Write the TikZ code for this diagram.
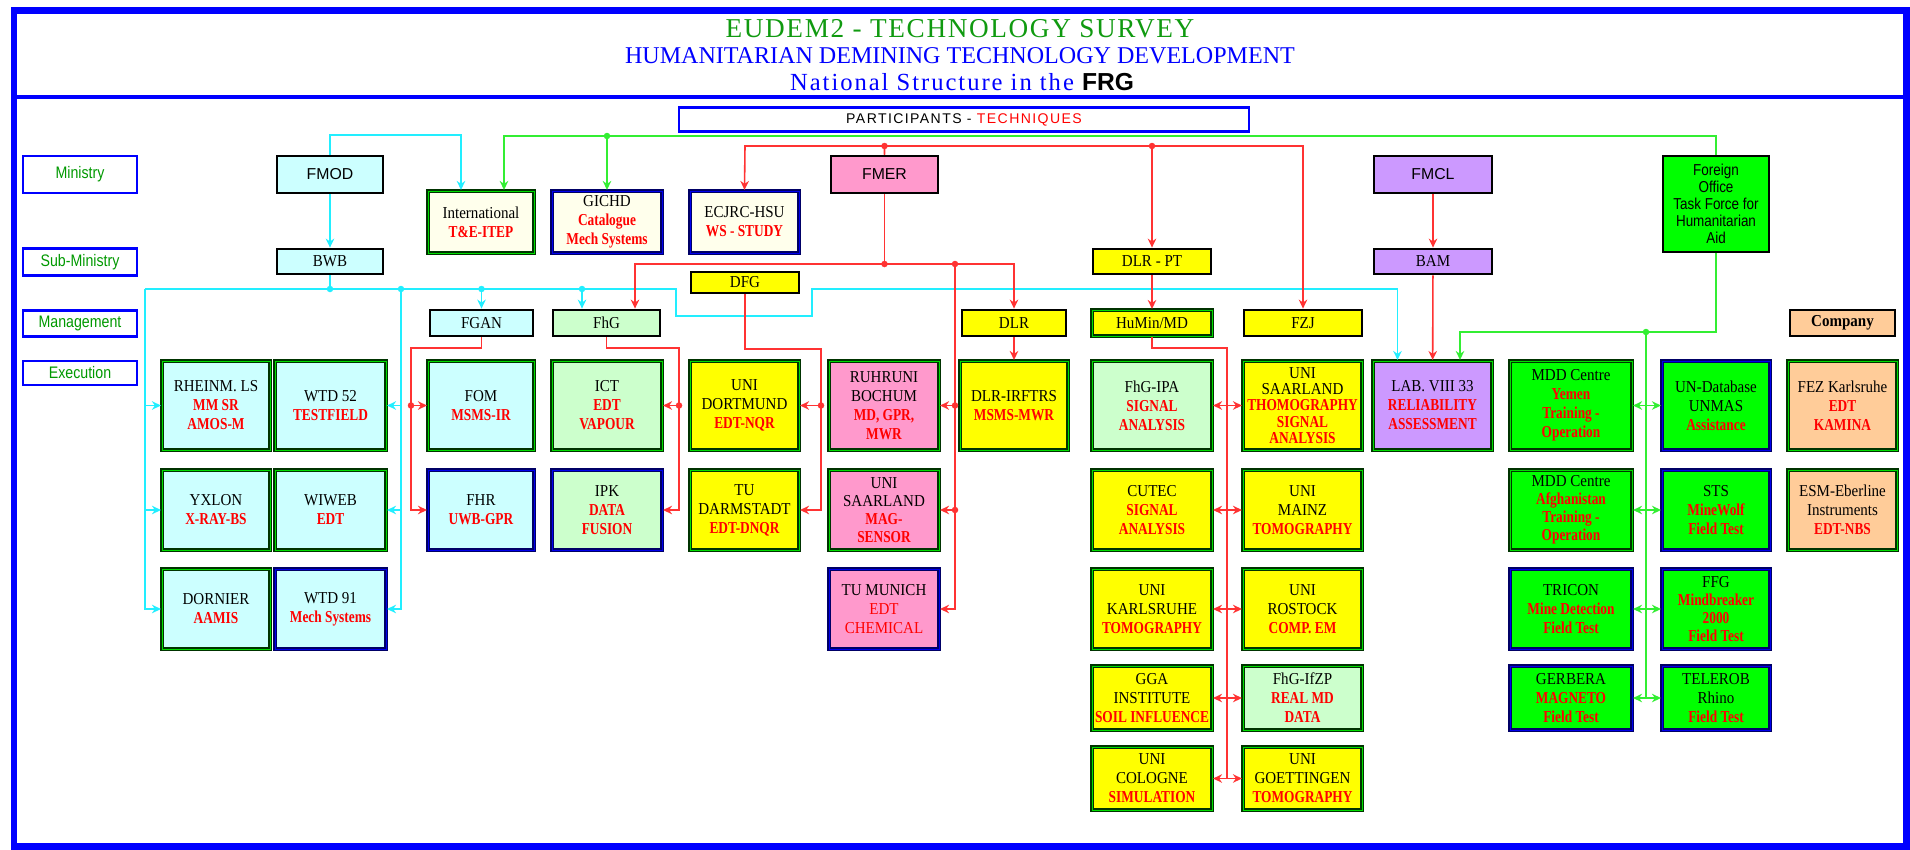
\documentclass[tikz,border=0pt]{standalone}
\usepackage{fontspec}
\setmainfont{Liberation Serif}
\setsansfont{Liberation Sans}
\newfontfamily\cellfont[FakeStretch=0.9]{Liberation Serif}
\newfontfamily\techfont[FakeStretch=0.8]{Liberation Serif}
\newfontfamily\lvlfont[FakeStretch=0.85]{Liberation Sans}
\usetikzlibrary{arrows.meta,calc}
\definecolor{cyanfill}{HTML}{CCFFFF}
\definecolor{ltgreen}{HTML}{CCFFCC}
\definecolor{yelfill}{HTML}{FFFF00}
\definecolor{pinkfill}{HTML}{FF99CC}
\definecolor{lavfill}{HTML}{CC99FF}
\definecolor{peachfill}{HTML}{FFCC99}
\definecolor{gnfill}{HTML}{00FF00}
\definecolor{creamfill}{HTML}{FFFFEC}
\definecolor{dkgreen}{HTML}{003300}
\definecolor{brgreen}{HTML}{00DD00}
\definecolor{navy}{HTML}{000066}
\definecolor{brblue}{HTML}{0000EE}
\definecolor{lvlgreen}{HTML}{009900}
\definecolor{ttlgreen}{HTML}{109A10}
\definecolor{cyanln}{HTML}{22EEFF}
\definecolor{greenln}{HTML}{33EE33}
\definecolor{redln}{HTML}{FF3333}
\newcommand{\techred}[1]{\textcolor{red}{\techfont\bfseries #1}}
\begin{document}
\begin{tikzpicture}[x=0.02cm,y=-0.02cm,
  boxsize/.style 2 args={minimum width=#1*0.02cm,minimum height=#2*0.02cm},
  cell/.style={rectangle,align=center,inner sep=1pt,font=\cellfont\fontsize{9.5}{10.8}\selectfont},
  gbord/.style={draw=dkgreen,line width=1.2pt,double=brgreen,double distance=0.4pt},
  nbord/.style={draw=navy,line width=1.2pt,double=brblue,double distance=0.4pt},
  kbord/.style={draw=black,line width=1.6pt},
  sans/.style={font=\sffamily\fontsize{9}{10}\selectfont},
  lvl/.style={draw=blue,line width=1.6pt,fill=white,boxsize={114}{24},font=\lvlfont\fontsize{9.5}{10}\selectfont,text=lvlgreen},
  cyconn/.style={draw=cyanln,line width=0.9pt},
  gnconn/.style={draw=greenln,line width=0.9pt},
  rdconn/.style={draw=redln,line width=0.9pt},
  jdot/.style={circle,fill=#1,inner sep=0pt,minimum size=0.13cm},
  >={Stealth[length=1.8mm,width=1.7mm]}]
\useasboundingbox (0,0) rectangle (1910,849);
% frame and titles
\draw[blue,line width=0.14cm] (14,10) rectangle (1906,846);
\draw[blue,line width=0.08cm] (14,97) -- (1906,97);
\node[font=\fontsize{15.5}{18}\selectfont,text=ttlgreen] (title) at (960,29) {\addfontfeature{LetterSpace=6}EUDEM2 - TECHNOLOGY SURVEY};
\node[font=\fontsize{13.7}{16}\selectfont,text=blue] (subtitle) at (960,56) {HUMANITARIAN DEMINING TECHNOLOGY DEVELOPMENT};
\node[font=\fontsize{14}{16}\selectfont,text=blue] (natl) at (962,82) {\addfontfeature{LetterSpace=8}National Structure in the \textcolor{black}{\sffamily\bfseries FRG}};
\node[draw=blue,line width=1.6pt,boxsize={570}{23},font=\sffamily\fontsize{8}{9}\selectfont] (partic) at (964,119.5) {\addfontfeature{LetterSpace=10}PARTICIPANTS - \textcolor{red}{TECHNIQUES}};
% levels
\node[lvl,boxsize={114}{37}] (lministry) at (80,174.5) {Ministry};
\node[lvl] (lsub) at (80,262) {Sub-Ministry};
\node[lvl,boxsize={114}{25}] (lmanag) at (80,323.5) {Management};
\node[lvl] (lexec) at (80,373) {Execution};
% ministries
\node[cell,kbord,sans,fill=cyanfill,boxsize={106}{37}] (fmod) at (330,174.5) {FMOD};
\node[cell,kbord,sans,fill=pinkfill,boxsize={107}{37}] (fmer) at (884.5,174.5) {FMER};
\node[cell,kbord,sans,fill=lavfill,boxsize={118}{37}] (fmcl) at (1433,174.5) {FMCL};
\node[cell,kbord,fill=gnfill,boxsize={106}{96},font=\lvlfont\fontsize{9}{9.6}\selectfont] (forgn) at (1716,204) {Foreign\\Office\\Task Force for\\Humanitarian\\Aid};
\node[cell,gbord,fill=creamfill,boxsize={106}{62}] (intl) at (481,222) {International\\\techred{T\&E-ITEP}};
\node[cell,nbord,fill=creamfill,boxsize={110}{62}] (gichd) at (607,222) {GICHD\\\techred{Catalogue}\\\techred{Mech Systems}};
\node[cell,nbord,fill=creamfill,boxsize={109}{62}] (ecjrc) at (744.5,222) {ECJRC-HSU\\\techred{WS - STUDY}};
% sub-ministries and management
\node[cell,kbord,fill=cyanfill,boxsize={106}{25}] (bwb) at (330,261.5) {BWB};
\node[cell,kbord,fill=yelfill,boxsize={118}{25}] (dlrpt) at (1152,261.5) {DLR - PT};
\node[cell,kbord,fill=lavfill,boxsize={118}{25}] (bam) at (1433,261.5) {BAM};
\node[cell,kbord,fill=yelfill,boxsize={108}{21}] (dfg) at (745,282.5) {DFG};
\node[cell,kbord,fill=cyanfill,boxsize={103}{26}] (fgan) at (481.5,323) {FGAN};
\node[cell,kbord,fill=ltgreen,boxsize={107}{26}] (fhg) at (606.5,323) {FhG};
\node[cell,kbord,fill=yelfill,boxsize={104}{26}] (dlr) at (1014,323) {DLR};
\node[cell,gbord,fill=yelfill,boxsize={120}{26}] (humin) at (1152,323) {HuMin/MD};
\node[cell,kbord,fill=yelfill,boxsize={118}{26}] (fzj) at (1303,323) {FZJ};
\node[cell,kbord,fill=peachfill,boxsize={105}{26}] (company) at (1842.5,323) {\bfseries Company};
% execution, row 1
\node[cell,gbord,fill=cyanfill,boxsize={108}{89}] (rheinm) at (216,405.5) {RHEINM. LS\\\techred{MM SR}\\\techred{AMOS-M}};
\node[cell,gbord,fill=cyanfill,boxsize={111}{89}] (wtd52) at (330.5,405.5) {WTD 52\\\techred{TESTFIELD}};
\node[cell,gbord,fill=cyanfill,boxsize={106}{89}] (fom) at (481,405.5) {FOM\\\techred{MSMS-IR}};
\node[cell,gbord,fill=ltgreen,boxsize={110}{89}] (ict) at (607,405.5) {ICT\\\techred{EDT}\\\techred{VAPOUR}};
\node[cell,gbord,fill=yelfill,boxsize={109}{89}] (dortm) at (744.5,405.5) {UNI\\DORTMUND\\\techred{EDT-NQR}};
\node[cell,gbord,fill=pinkfill,boxsize={110}{89}] (bochum) at (884,405.5) {RUHRUNI\\BOCHUM\\\techred{MD, GPR,}\\\techred{MWR}};
\node[cell,gbord,fill=yelfill,boxsize={108}{89}] (irftrs) at (1014,405.5) {DLR-IRFTRS\\\techred{MSMS-MWR}};
\node[cell,gbord,fill=ltgreen,boxsize={120}{89}] (fhgipa) at (1152,405.5) {FhG-IPA\\\techred{SIGNAL}\\\techred{ANALYSIS}};
\node[cell,gbord,fill=yelfill,boxsize={119}{89},font=\cellfont\fontsize{9.5}{9.2}\selectfont] (saarth) at (1302.5,405.5) {UNI\\SAARLAND\\\techred{THOMOGRAPHY}\\\techred{SIGNAL}\\\techred{ANALYSIS}};
\node[cell,gbord,fill=lavfill,boxsize={119}{89}] (lab) at (1432.5,405.5) {LAB. VIII 33\\\techred{RELIABILITY}\\\techred{ASSESSMENT}};
\node[cell,gbord,fill=gnfill,boxsize={122}{89}] (mddy) at (1571,405.5) {MDD Centre\\\techred{Yemen}\\\techred{Training -}\\\techred{Operation}};
\node[cell,nbord,fill=gnfill,boxsize={108}{89}] (unmas) at (1716,405.5) {UN-Database\\UNMAS\\\techred{Assistance}};
\node[cell,gbord,fill=peachfill,boxsize={109}{89}] (fez) at (1842.5,405.5) {FEZ Karlsruhe\\\techred{EDT}\\\techred{KAMINA}};
% row 2
\node[cell,gbord,fill=cyanfill,boxsize={108}{80}] (yxlon) at (216,510) {YXLON\\\techred{X-RAY-BS}};
\node[cell,gbord,fill=cyanfill,boxsize={111}{80}] (wiweb) at (330.5,510) {WIWEB\\\techred{EDT}};
\node[cell,nbord,fill=cyanfill,boxsize={106}{80}] (fhr) at (481,510) {FHR\\\techred{UWB-GPR}};
\node[cell,nbord,fill=ltgreen,boxsize={110}{80}] (ipk) at (607,510) {IPK\\\techred{DATA}\\\techred{FUSION}};
\node[cell,gbord,fill=yelfill,boxsize={109}{80}] (tudarm) at (744.5,510) {TU\\DARMSTADT\\\techred{EDT-DNQR}};
\node[cell,gbord,fill=pinkfill,boxsize={110}{80},font=\cellfont\fontsize{9.5}{10.2}\selectfont] (saarmag) at (884,510) {UNI\\SAARLAND\\\techred{MAG-}\\\techred{SENSOR}};
\node[cell,gbord,fill=yelfill,boxsize={120}{80}] (cutec) at (1152,510) {CUTEC\\\techred{SIGNAL}\\\techred{ANALYSIS}};
\node[cell,gbord,fill=yelfill,boxsize={119}{80}] (mainz) at (1302.5,510) {UNI\\MAINZ\\\techred{TOMOGRAPHY}};
\node[cell,gbord,fill=gnfill,boxsize={122}{80},font=\cellfont\fontsize{9.5}{10.2}\selectfont] (mdda) at (1571,510) {MDD Centre\\\techred{Afghanistan}\\\techred{Training -}\\\techred{Operation}};
\node[cell,nbord,fill=gnfill,boxsize={108}{80}] (sts) at (1716,510) {STS\\\techred{MineWolf}\\\techred{Field Test}};
\node[cell,gbord,fill=peachfill,boxsize={109}{80}] (esm) at (1842.5,510) {ESM-Eberline\\Instruments\\\techred{EDT-NBS}};
% row 3
\node[cell,gbord,fill=cyanfill,boxsize={108}{80}] (dornier) at (216,609) {DORNIER\\\techred{AAMIS}};
\node[cell,nbord,fill=cyanfill,boxsize={111}{80}] (wtd91) at (330.5,609) {WTD 91\\\techred{Mech Systems}};
\node[cell,nbord,fill=pinkfill,boxsize={110}{80}] (tumun) at (884,609) {TU MUNICH\\\textcolor{red}{EDT}\\\textcolor{red}{CHEMICAL}};
\node[cell,gbord,fill=yelfill,boxsize={120}{80}] (karls) at (1152,609) {UNI\\KARLSRUHE\\\techred{TOMOGRAPHY}};
\node[cell,gbord,fill=yelfill,boxsize={119}{80}] (rostock) at (1302.5,609) {UNI\\ROSTOCK\\\techred{COMP. EM}};
\node[cell,nbord,fill=gnfill,boxsize={122}{80}] (tricon) at (1571,609) {TRICON\\\techred{Mine Detection}\\\techred{Field Test}};
\node[cell,nbord,fill=gnfill,boxsize={108}{80},font=\cellfont\fontsize{9.5}{10.2}\selectfont] (ffg) at (1716,609) {FFG\\\techred{Mindbreaker}\\\techred{2000}\\\techred{Field Test}};
% row 4 and 5
\node[cell,gbord,fill=yelfill,boxsize={120}{64}] (gga) at (1152,698) {GGA\\INSTITUTE\\\techred{SOIL INFLUENCE}};
\node[cell,gbord,fill=ltgreen,boxsize={119}{64}] (ifzp) at (1302.5,698) {FhG-IfZP\\\techred{REAL MD}\\\techred{DATA}};
\node[cell,nbord,fill=gnfill,boxsize={122}{64}] (gerbera) at (1571,698) {GERBERA\\\techred{MAGNETO}\\\techred{Field Test}};
\node[cell,nbord,fill=gnfill,boxsize={108}{64}] (telerob) at (1716,698) {TELEROB\\Rhino\\\techred{Field Test}};
\node[cell,gbord,fill=yelfill,boxsize={120}{63}] (cologne) at (1152,778.5) {UNI\\COLOGNE\\\techred{SIMULATION}};
\node[cell,gbord,fill=yelfill,boxsize={119}{63}] (goett) at (1302.5,778.5) {UNI\\GOETTINGEN\\\techred{TOMOGRAPHY}};
% cyan: FMOD / BWB
\coordinate (c1) at (461,135);
\coordinate (cbus) at (145,289);
\coordinate (cbus2) at (401,289);
\draw[cyconn,->] (fmod.north) |- (c1) -- (c1 |- intl.north);
\draw[cyconn,->] (fmod) -- (bwb);
\draw[cyconn] (bwb) -- (bwb |- cbus);
\draw[cyconn,->] (cbus) -- (676,289) -- (676,316) -- (812,316) -- (812,289) -| ($(lab.north)+(-35,0)$);
\draw[cyconn,->] (fgan |- cbus) -- (fgan.north);
\draw[cyconn,->] (582,289) -- ($(fhg.north)+(-24.5,0)$);
\draw[cyconn,->] (cbus) |- (dornier.west);
\draw[cyconn,->] (cbus |- rheinm) -- (rheinm.west);
\draw[cyconn,->] (cbus |- yxlon) -- (yxlon.west);
\draw[cyconn,->] (cbus2) |- (wtd91.east);
\draw[cyconn,->] (cbus2 |- wtd52) -- (wtd52.east);
\draw[cyconn,->] (cbus2 |- wiweb) -- (wiweb.east);
\node[jdot=cyanln] (cd1) at (bwb |- cbus) {};
\node[jdot=cyanln] (cd2) at (cbus2) {};
\node[jdot=cyanln] (cd3) at (fgan |- cbus) {};
\node[jdot=cyanln] (cd4) at (582,289) {};
% green: Foreign Office
\coordinate (g1) at (504,136);
\coordinate (g2) at (1460,332);
\coordinate (g3) at (1646,332);
\draw[gnconn,->] (forgn.north) |- (g1) -- (g1 |- intl.north);
\draw[gnconn,->] (gichd.north |- g1) -- (gichd.north);
\draw[gnconn,->] (forgn.south) |- (g2) -- (g2 |- lab.north);
\draw[gnconn] (g3) -- (g3 |- gerbera);
\draw[gnconn,<->] (mddy.east) -- (unmas.west);
\draw[gnconn,<->] (mdda.east) -- (sts.west);
\draw[gnconn,<->] (tricon.east) -- (ffg.west);
\draw[gnconn,<->] (gerbera.east) -- (telerob.west);
\node[jdot=greenln] (gd1) at (gichd.north |- g1) {};
\node[jdot=greenln] (gd2) at (g3) {};
% red: FMER, FMCL
\coordinate (r1) at (745,146);
\coordinate (r2) at (1303,146);
\coordinate (r3) at (635,264);
\coordinate (r4) at (1014,264);
\coordinate (r5) at (955,264);
\coordinate (r6) at (821,349);
\coordinate (r7) at (679,348);
\coordinate (r8) at (411,348);
\coordinate (r9) at (1227,348);
\draw[rdconn,->] (fmer.north) |- (r1) -- (ecjrc.north);
\draw[rdconn,->] (fmer.north) |- (r2) -- (fzj.north);
\draw[rdconn,->] (dlrpt.north |- r1) -- (dlrpt.north);
\draw[rdconn,->] (fmer.south) |- (r3) -- (r3 |- fhg.north);
\draw[rdconn,->] (fmer.south) |- (r4) -- (dlr.north);
\draw[rdconn,->] (r5) |- (tumun.east);
\draw[rdconn,->] (r5 |- bochum) -- (bochum.east);
\draw[rdconn,->] (r5 |- saarmag) -- (saarmag.east);
\draw[rdconn,->] (dlr) -- (irftrs);
\draw[rdconn,->] (dfg.south) |- (r6) |- (tudarm.east);
\draw[rdconn,->] (r6 |- dortm) -- (dortm.east);
\draw[rdconn,->] (fhg.south) |- (r7) |- (ipk.east);
\draw[rdconn,->] (r7 |- ict) -- (ict.east);
\draw[rdconn,->] (fgan.south) |- (r8) |- (fhr.west);
\draw[rdconn,->] (r8 |- fom) -- (fom.west);
\draw[rdconn,->] (dlrpt) -- (humin);
\draw[rdconn] (humin.south) |- (r9) -- (r9 |- cologne);
\draw[rdconn,<->] (fhgipa.east) -- (saarth.west);
\draw[rdconn,<->] (cutec.east) -- (mainz.west);
\draw[rdconn,<->] (karls.east) -- (rostock.west);
\draw[rdconn,<->] (gga.east) -- (ifzp.west);
\draw[rdconn,<->] (cologne.east) -- (goett.west);
\draw[rdconn,->] (fmcl) -- (bam);
\draw[rdconn,->] (bam) -- (lab);
\node[jdot=redln] (rd1) at (fmer.north |- r1) {};
\node[jdot=redln] (rd2) at (dlrpt.north |- r1) {};
\node[jdot=redln] (rd3) at (fmer.south |- r3) {};
\node[jdot=redln] (rd4) at (r5) {};
\node[jdot=redln] (rd5) at (r5 |- bochum) {};
\node[jdot=redln] (rd6) at (r5 |- saarmag) {};
\node[jdot=redln] (rd7) at (r6 |- dortm) {};
\node[jdot=redln] (rd8) at (r7 |- ict) {};
\node[jdot=redln] (rd9) at (r8 |- fom) {};
\end{tikzpicture}
\end{document}
